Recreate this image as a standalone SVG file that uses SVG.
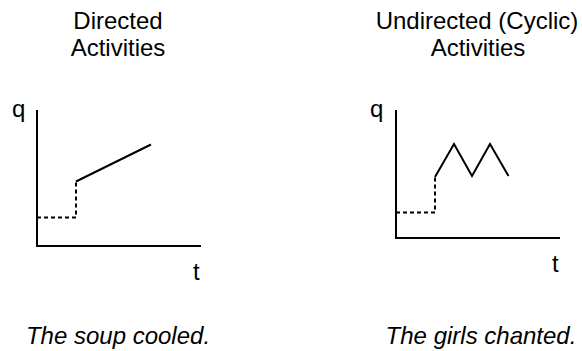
<svg xmlns="http://www.w3.org/2000/svg" width="582" height="351" viewBox="0 0 582 351">
<style>
text{font-family:"Liberation Sans",Arial,sans-serif;font-size:24px;fill:#000}
.c{text-anchor:middle}
.i{font-style:italic}
.ax{stroke:#000;stroke-width:2;fill:none}
.ds{stroke:#000;stroke-width:2;fill:none;stroke-dasharray:4 3}
.ln{stroke:#000;stroke-width:2;fill:none;stroke-linejoin:miter}
</style>
<rect width="582" height="351" fill="#fff"/>
<g id="left-panel">
<text class="c" x="118" y="29">Directed</text>
<text class="c" x="118" y="56">Activities</text>
<text x="12" y="117">q</text>
<text x="193" y="280">t</text>
<path class="ax" d="M37,110 V246 H201"/>
<path class="ds" d="M37,217.5 H76 V181.5"/>
<path class="ln" d="M76,181.5 L151,144.5"/>
<text class="c i" x="118" y="344">The soup cooled.</text>
</g>
<g id="right-panel">
<text class="c" x="477" y="29">Undirected (Cyclic)</text>
<text class="c" x="478" y="56">Activities</text>
<text x="370" y="117">q</text>
<text x="552" y="272">t</text>
<path class="ax" d="M396,110 V238 H560"/>
<path class="ds" d="M396,212.5 H435 V177"/>
<path class="ln" d="M435,177 L454,144 L472,176 L490,144 L508.5,176"/>
<text class="c i" x="481" y="344">The girls chanted.</text>
</g>
</svg>
